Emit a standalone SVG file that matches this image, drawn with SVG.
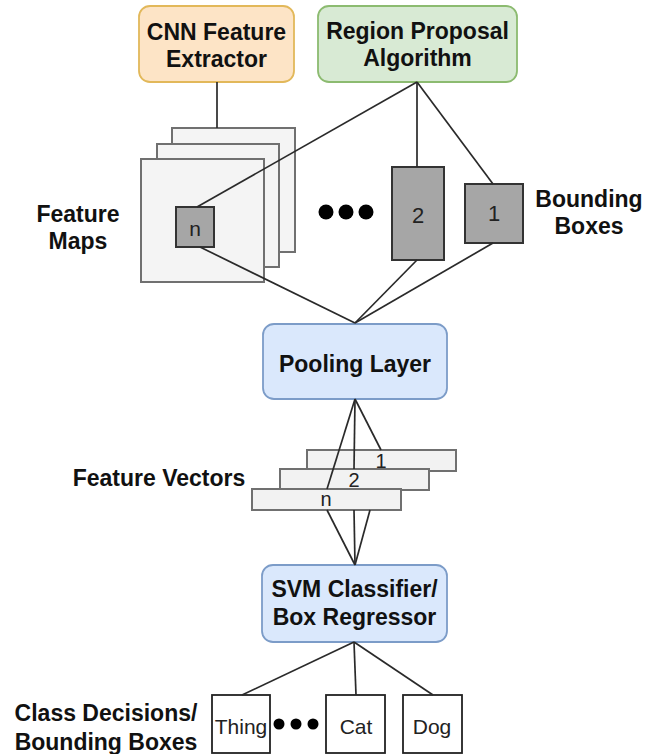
<svg xmlns="http://www.w3.org/2000/svg" width="657" height="754" viewBox="0 0 657 754">
<style>
.lbl{font-family:"Liberation Sans",Arial,sans-serif;font-weight:bold;font-size:23px;fill:#111;text-anchor:middle;dominant-baseline:central}
.num{font-family:"Liberation Sans",Arial,sans-serif;font-size:21px;fill:#222;text-anchor:middle;dominant-baseline:central}
.big{font-size:22px}
.sheet{fill:#f4f4f4;stroke:#707070;stroke-width:2}
.gbox{fill:#a6a6a6;stroke:#333;stroke-width:2}
.vec{fill:#f2f2f2;stroke:#707070;stroke-width:2}
.wbox{fill:#fff;stroke:#222;stroke-width:1.8}
.blue{fill:#dae8fc;stroke:#7c9cc8;stroke-width:1.8}
.edge{stroke:#2a2a2a;stroke-width:1.7;fill:none}
.dot{fill:#000}
</style>
<g id="cnn"><rect x="139" y="6" width="155" height="76" rx="11" fill="#fde4c6" stroke="#e2b85a" stroke-width="1.8"/><text class="lbl" x="216.5" y="32">CNN Feature</text><text class="lbl" x="216.5" y="59">Extractor</text></g>
<g id="rpa"><rect x="318" y="6" width="199" height="76" rx="11" fill="#d8ead4" stroke="#8cbb70" stroke-width="1.8"/><text class="lbl" x="417.5" y="31">Region Proposal</text><text class="lbl" x="417.5" y="58">Algorithm</text></g>
<g id="feature-maps"><rect class="sheet" x="172" y="128" width="123" height="124"/><rect class="sheet" x="157" y="144" width="122" height="123"/><rect class="sheet" x="141" y="159" width="123" height="123"/><rect class="gbox" x="176" y="207" width="38" height="40"/><text class="num" x="195" y="228">n</text><text class="lbl" x="78" y="214">Feature</text><text class="lbl" x="78" y="241">Maps</text></g>
<g id="dots-top"><circle class="dot" cx="326" cy="212" r="7.5"/><circle class="dot" cx="346" cy="212" r="7.5"/><circle class="dot" cx="366" cy="212" r="7.5"/></g>
<g id="box2"><rect class="gbox" x="392" y="167" width="52" height="93"/><text class="num big" x="418" y="215">2</text></g>
<g id="box1"><rect class="gbox" x="465" y="184" width="58" height="59"/><text class="num big" x="494" y="213">1</text></g>
<g id="bb-label"><text class="lbl" x="589" y="199">Bounding</text><text class="lbl" x="589" y="226">Boxes</text></g>
<g id="pooling"><rect class="blue" x="263" y="324" width="184" height="75" rx="11"/><text class="lbl" x="355" y="364">Pooling Layer</text></g>
<g id="feature-vectors"><rect class="vec" x="307" y="450" width="149" height="21"/><rect class="vec" x="280" y="469" width="149" height="21"/><rect class="vec" x="252" y="489" width="149" height="21"/><text class="num" x="381" y="461" style="font-size:20px">1</text><text class="num" x="354" y="480" style="font-size:20px">2</text><text class="num" x="326" y="499" style="font-size:20px">n</text><text class="lbl" x="159" y="478">Feature Vectors</text></g>
<g id="svm"><rect class="blue" x="262" y="565" width="185" height="77" rx="11"/><text class="lbl" x="354.5" y="589">SVM Classifier/</text><text class="lbl" x="354.5" y="617">Box Regressor</text></g>
<g id="thing"><rect class="wbox" x="212" y="695" width="58" height="58"/><text class="num" x="241" y="726">Thing</text></g>
<g id="dots-bottom"><circle class="dot" cx="279" cy="724" r="5.5"/><circle class="dot" cx="296" cy="724" r="5.5"/><circle class="dot" cx="313" cy="724" r="5.5"/></g>
<g id="cat"><rect class="wbox" x="326" y="695" width="59" height="58"/><text class="num" x="356" y="726">Cat</text></g>
<g id="dog"><rect class="wbox" x="403" y="695" width="59" height="58"/><text class="num" x="432" y="726">Dog</text></g>
<g id="class-label"><text class="lbl" x="106" y="713">Class Decisions/</text><text class="lbl" x="106" y="742">Bounding Boxes</text></g>
<g id="connectors">
<line class="edge" x1="217" y1="82" x2="217" y2="128"/>
<line class="edge" x1="417" y1="82" x2="197" y2="207"/>
<line class="edge" x1="417" y1="82" x2="417" y2="167"/>
<line class="edge" x1="417" y1="82" x2="493" y2="184"/>
<line class="edge" x1="200" y1="247" x2="355" y2="323"/>
<line class="edge" x1="417" y1="260" x2="355" y2="323"/>
<line class="edge" x1="493" y1="243" x2="355" y2="323"/>
<line class="edge" x1="355" y1="399" x2="381" y2="450"/>
<line class="edge" x1="355" y1="399" x2="354" y2="469"/>
<line class="edge" x1="355" y1="399" x2="327" y2="489"/>
<line class="edge" x1="327" y1="510" x2="355" y2="565"/>
<line class="edge" x1="354" y1="510" x2="355" y2="565"/>
<line class="edge" x1="370" y1="510" x2="355" y2="565"/>
<line class="edge" x1="354" y1="642" x2="242" y2="695"/>
<line class="edge" x1="354" y1="642" x2="356" y2="695"/>
<line class="edge" x1="354" y1="642" x2="433" y2="695"/>
</g>
</svg>
